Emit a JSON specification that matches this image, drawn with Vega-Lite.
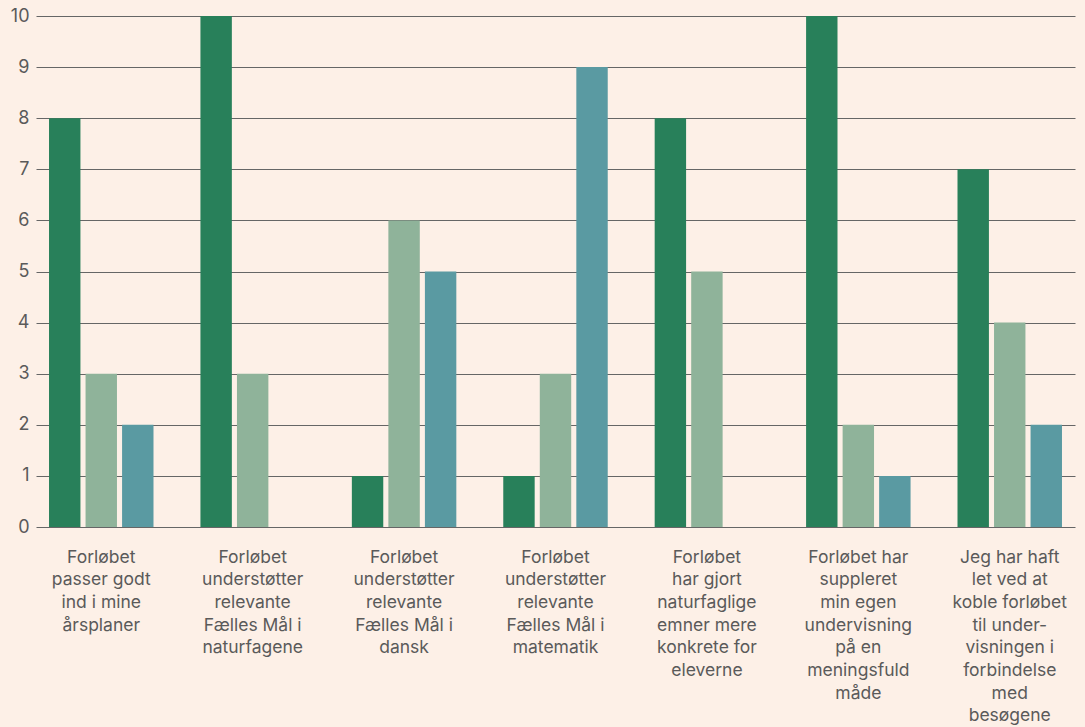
{
  "$schema": "https://vega.github.io/schema/vega-lite/v6.json",
  "autosize": {"type": "none"},
  "width": 1039,
  "height": 511,
  "padding": {"left": 36, "top": 16, "right": 10, "bottom": 200},
  "background": "#fdf0e7",
  "config": {"view": {"stroke": null}, "font": "Inter"},
  "data": {"values": [
    {"q": "Forløbet|passer godt|ind i mine|årsplaner", "s": "A", "v": 8},
    {"q": "Forløbet|passer godt|ind i mine|årsplaner", "s": "B", "v": 3},
    {"q": "Forløbet|passer godt|ind i mine|årsplaner", "s": "C", "v": 2},
    {"q": "Forløbet|understøtter|relevante|Fælles Mål i|naturfagene", "s": "A", "v": 10},
    {"q": "Forløbet|understøtter|relevante|Fælles Mål i|naturfagene", "s": "B", "v": 3},
    {"q": "Forløbet|understøtter|relevante|Fælles Mål i|naturfagene", "s": "C", "v": 0},
    {"q": "Forløbet|understøtter|relevante|Fælles Mål i|dansk", "s": "A", "v": 1},
    {"q": "Forløbet|understøtter|relevante|Fælles Mål i|dansk", "s": "B", "v": 6},
    {"q": "Forløbet|understøtter|relevante|Fælles Mål i|dansk", "s": "C", "v": 5},
    {"q": "Forløbet|understøtter|relevante|Fælles Mål i|matematik", "s": "A", "v": 1},
    {"q": "Forløbet|understøtter|relevante|Fælles Mål i|matematik", "s": "B", "v": 3},
    {"q": "Forløbet|understøtter|relevante|Fælles Mål i|matematik", "s": "C", "v": 9},
    {"q": "Forløbet|har gjort|naturfaglige|emner mere|konkrete for|eleverne", "s": "A", "v": 8},
    {"q": "Forløbet|har gjort|naturfaglige|emner mere|konkrete for|eleverne", "s": "B", "v": 5},
    {"q": "Forløbet|har gjort|naturfaglige|emner mere|konkrete for|eleverne", "s": "C", "v": 0},
    {"q": "Forløbet har|suppleret|min egen|undervisning|på en|meningsfuld|måde", "s": "A", "v": 10},
    {"q": "Forløbet har|suppleret|min egen|undervisning|på en|meningsfuld|måde", "s": "B", "v": 2},
    {"q": "Forløbet har|suppleret|min egen|undervisning|på en|meningsfuld|måde", "s": "C", "v": 1},
    {"q": "Jeg har haft|let ved at|koble forløbet|til under-|visningen i|forbindelse|med|besøgene", "s": "A", "v": 7},
    {"q": "Jeg har haft|let ved at|koble forløbet|til under-|visningen i|forbindelse|med|besøgene", "s": "B", "v": 4},
    {"q": "Jeg har haft|let ved at|koble forløbet|til under-|visningen i|forbindelse|med|besøgene", "s": "C", "v": 2}
  ]},
  "mark": {"type": "bar"},
  "encoding": {
    "x": {
      "field": "q", "type": "nominal", "sort": null,
      "scale": {"paddingInner": 0.31, "paddingOuter": 0.086},
      "axis": {
        "title": null, "labelAngle": 0, "domain": false, "ticks": false,
        "labelExpr": "split(datum.label, '|')",
        "labelFontSize": 17.5, "labelColor": "#5a5a5a", "labelLineHeight": 22.7,
        "labelBaseline": "top", "labelPadding": 21, "labelLimit": 200
      }
    },
    "xOffset": {"field": "s", "type": "nominal", "scale": {"paddingInner": 0.14, "paddingOuter": 0}},
    "y": {
      "field": "v", "type": "quantitative",
      "scale": {"domain": [0, 10], "nice": false},
      "axis": {
        "title": null, "domain": false, "ticks": false, "values": [0,1,2,3,4,5,6,7,8,9,10],
        "gridColor": "#666666", "gridWidth": 1, "gridOpacity": 1,
        "labelFontSize": 18, "labelColor": "#5a5a5a", "labelPadding": 7
      }
    },
    "color": {
      "field": "s", "type": "nominal", "legend": null,
      "scale": {"domain": ["A", "B", "C"], "range": ["#28805a", "#8fb39a", "#5a9aa2"]}
    }
  }
}
